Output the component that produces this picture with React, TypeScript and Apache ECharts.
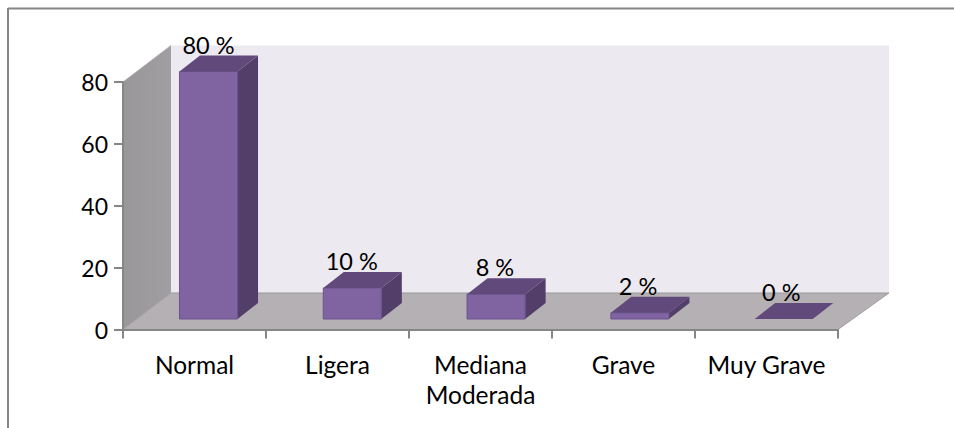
import React, { useEffect, useRef } from "react";
import * as echarts from "echarts";

const categories = ["Normal", "Ligera", "Mediana\nModerada", "Grave", "Muy Grave"];
const values = [80, 10, 8, 2, 0];
const percentLabels = ["80 %", "10 %", "8 %", "2 %", "0 %"];
const yTicks = { min: 0, max: 80, interval: 20 };

const FONT = "Lato";
const AXIS = "#868686";
const FRONT = "#8063a1";
const FRONT_EDGE = "#6d5390";
const TOP = "#61497c";
const SIDE = "#523e68";

const GRID = { left: 123, top: 82, width: 715, height: 247.5 };
const DEPTH_X = 48;
const DEPTH_Y = 36.5;

export default function App() {
  const ref = useRef<HTMLDivElement>(null);
  useEffect(() => {
    const chart = echarts.init(ref.current!, null, { renderer: "svg" });
    const l = GRID.left, b = GRID.top + GRID.height, r = GRID.left + GRID.width;
    chart.setOption({
      animation: false,
      backgroundColor: "#ffffff",
      textStyle: { fontFamily: FONT },
      grid: { ...GRID },
      graphic: [
        { type: "line", shape: { x1: 8, y1: 8.5, x2: 954, y2: 8.5 }, style: { stroke: AXIS, lineWidth: 2 } },
        { type: "line", shape: { x1: 8, y1: 8, x2: 8, y2: 428 }, style: { stroke: AXIS, lineWidth: 2 } },
        {
          type: "polygon",
          shape: { points: [[l + DEPTH_X, GRID.top - DEPTH_Y], [r + DEPTH_X + 3, GRID.top - DEPTH_Y], [r + DEPTH_X + 3, b - DEPTH_Y], [l + DEPTH_X, b - DEPTH_Y]] },
          style: { fill: "#ece9f1" },
        },
        {
          type: "polygon",
          shape: { points: [[l, GRID.top], [l + DEPTH_X, GRID.top - DEPTH_Y], [l + DEPTH_X, b - DEPTH_Y], [l, b]] },
          style: {
            fill: new echarts.graphic.LinearGradient(0, 0, 1, 0, [
              { offset: 0, color: "#999799" },
              { offset: 1, color: "#a09ea1" },
            ]),
          },
        },
        {
          type: "polygon",
          shape: { points: [[l, b], [r, b], [r + DEPTH_X + 3, b - DEPTH_Y], [l + DEPTH_X, b - DEPTH_Y]] },
          style: { fill: "#b4b0b4" },
        },
        { type: "line", shape: { x1: l + DEPTH_X, y1: b - DEPTH_Y, x2: r + DEPTH_X + 3, y2: b - DEPTH_Y }, style: { stroke: "#999999", lineWidth: 1 } },
        { type: "line", shape: { x1: l + DEPTH_X, y1: b - DEPTH_Y, x2: l, y2: b }, style: { stroke: "#a0a0a0", lineWidth: 1 } },
        { type: "line", shape: { x1: r, y1: b, x2: r + DEPTH_X + 3, y2: b - DEPTH_Y }, style: { stroke: "#a0a0a0", lineWidth: 1 } },
        { type: "line", shape: { x1: l + DEPTH_X, y1: GRID.top - DEPTH_Y, x2: l, y2: GRID.top }, style: { stroke: "#b0b0b0", lineWidth: 1 } },
      ],
      xAxis: {
        type: "category",
        data: categories,
        axisLine: { lineStyle: { color: AXIS, width: 2 } },
        axisTick: { show: true, interval: 0, alignWithLabel: false, length: 9, lineStyle: { color: AXIS, width: 2 } },
        axisLabel: { color: "#000000", interval: 0, fontSize: 24.5, fontFamily: FONT, lineHeight: 30, margin: 20 },
      },
      yAxis: {
        type: "value",
        ...yTicks,
        splitLine: { show: false },
        axisLine: { show: true, lineStyle: { color: AXIS, width: 2 } },
        axisTick: { show: true, length: 9, lineStyle: { color: AXIS, width: 2 } },
        axisLabel: { color: "#000000", fontSize: 23, fontFamily: FONT, margin: 15 },
      },
      series: [
        {
          type: "custom",
          data: values.map((v, i) => [i, v]),
          encode: { x: 0, y: 1 },
          clip: false,
          z: 5,
          renderItem: (params: any, api: any) => {
            const i = api.value(0);
            const v = api.value(1);
            const [cx, y0] = api.coord([i, 0]);
            const [, yv] = api.coord([i, v]);
            const band = api.size([1, 0])[0];
            const w = band * 0.406;
            const x1 = cx + 14 + i * 0.8 - w / 2;
            const x2 = x1 + w;
            const bottom = y0 - 10.5;
            const top = bottom - (y0 - yv);
            const dx = 20.5;
            const dy = 16;
            const children: any[] = [];
            if (v > 0) {
              children.push({
                type: "polygon",
                shape: { points: [[x2, top], [x2 + dx, top - dy], [x2 + dx, bottom - dy], [x2, bottom]] },
                style: { fill: SIDE },
              });
              children.push({
                type: "rect",
                shape: { x: x1, y: top, width: w, height: bottom - top },
                style: { fill: FRONT, stroke: FRONT_EDGE, lineWidth: 1 },
              });
            }
            children.push({
              type: "polygon",
              shape: { points: [[x1, top], [x1 + dx, top - dy], [x2 + dx, top - dy], [x2, top]] },
              style: { fill: TOP },
            });
            children.push({
              type: "text",
              style: {
                x: (x1 + x2) / 2 - i * 0.6,
                y: top - dy - 11,
                text: percentLabels[i],
                fill: "#000000",
                font: `23.5px ${FONT}`,
                align: "center",
                verticalAlign: "middle",
              },
            });
            return { type: "group", children };
          },
        },
      ],
    });
    return () => chart.dispose();
  }, []);
  return <div ref={ref} style={{ position: "absolute", left: 0, top: 0, width: 954, height: 428 }} />;
}
